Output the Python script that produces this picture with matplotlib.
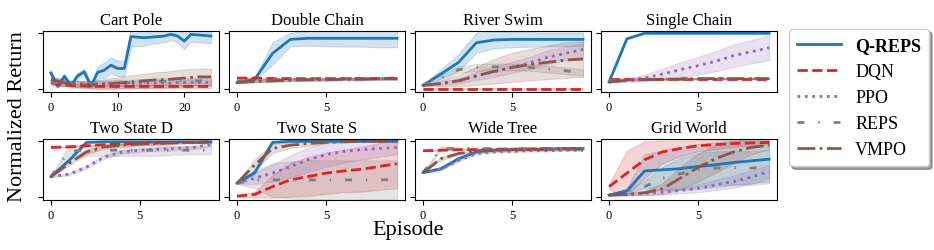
import numpy as np
import matplotlib.pyplot as plt

plt.rcParams["font.family"] = ["Liberation Serif", "DejaVu Serif"]
plt.rcParams["mathtext.fontset"] = "stix"

ALGOS = ["Q-REPS", "DQN", "PPO", "REPS", "VMPO"]
COLORS = {"Q-REPS": "#1f77b4", "DQN": "#d62728", "PPO": "#9467bd",
          "REPS": "#7f7f7f", "VMPO": "#8c564b"}
STYLES = {"Q-REPS": "-", "DQN": "--", "PPO": ":",
          "REPS": (0, (2.5, 5, 0.5, 5)), "VMPO": "-."}

# ---- data (normalized return, mean and spread) ----
cart_pole = {
    "Q-REPS": [0.29, 0.05, 0.23, 0.07, 0.24, 0.31, 0.06, 0.30, 0.34, 0.43, 0.37, 0.37, 0.94,
               0.93, 0.92, 0.93, 0.94, 0.95, 0.98, 0.95, 0.86, 0.98, 0.97, 0.96, 0.95],
    "DQN": [0.12, 0.10, 0.08, 0.07, 0.06, 0.06, 0.05, 0.05, 0.05, 0.05, 0.05, 0.05, 0.05,
            0.05, 0.05, 0.05, 0.05, 0.05, 0.05, 0.05, 0.05, 0.05, 0.05, 0.05, 0.05],
    "PPO": [0.15, 0.13, 0.11, 0.10, 0.10, 0.10, 0.10, 0.10, 0.10, 0.10, 0.10, 0.10, 0.10,
            0.10, 0.11, 0.11, 0.11, 0.11, 0.11, 0.12, 0.12, 0.12, 0.12, 0.12, 0.12],
    "REPS": [0.13, 0.12, 0.11, 0.11, 0.10, 0.10, 0.10, 0.11, 0.11, 0.11, 0.12, 0.12, 0.12,
             0.13, 0.13, 0.13, 0.14, 0.14, 0.14, 0.15, 0.15, 0.15, 0.15, 0.15, 0.15],
    "VMPO": [0.17, 0.15, 0.12, 0.10, 0.09, 0.08, 0.08, 0.08, 0.09, 0.10, 0.11, 0.12, 0.13,
             0.14, 0.15, 0.16, 0.17, 0.17, 0.18, 0.19, 0.20, 0.21, 0.22, 0.22, 0.22],
}
cart_pole_sd = {
    "Q-REPS": [0.05, 0.03, 0.05, 0.03, 0.05, 0.06, 0.04, 0.10, 0.14, 0.14, 0.14, 0.14, 0.18,
               0.16, 0.14, 0.12, 0.12, 0.11, 0.10, 0.12, 0.14, 0.13, 0.13, 0.13, 0.13],
    "DQN": [0.03] * 25,
    "PPO": [0.08, 0.07, 0.06, 0.05, 0.05, 0.05, 0.05, 0.05, 0.05, 0.05, 0.05, 0.05, 0.05,
            0.05, 0.05, 0.05, 0.05, 0.05, 0.05, 0.05, 0.05, 0.05, 0.05, 0.05, 0.05],
    "REPS": [0.05] * 25,
    "VMPO": [0.05, 0.05, 0.05, 0.05, 0.06, 0.06, 0.07, 0.08, 0.09, 0.10, 0.10, 0.11, 0.12,
             0.12, 0.13, 0.13, 0.14, 0.14, 0.15, 0.15, 0.15, 0.15, 0.15, 0.15, 0.15],
}

double_chain = {
    "Q-REPS": [0.12, 0.18, 0.64, 0.89, 0.91, 0.91, 0.91, 0.91, 0.91, 0.91],
    "DQN": [0.20, 0.20, 0.19, 0.19, 0.19, 0.19, 0.19, 0.19, 0.19, 0.20],
    "PPO": [0.14, 0.15, 0.16, 0.17, 0.17, 0.18, 0.18, 0.18, 0.19, 0.19],
    "REPS": [0.14, 0.16, 0.17, 0.18, 0.18, 0.18, 0.19, 0.19, 0.19, 0.19],
    "VMPO": [0.12, 0.14, 0.15, 0.16, 0.17, 0.17, 0.18, 0.18, 0.19, 0.19],
}
double_chain_sd = {
    "Q-REPS": [0.01, 0.02, 0.20, 0.12, 0.13, 0.14, 0.15, 0.15, 0.16, 0.16],
    "DQN": [0.01] * 10,
    "PPO": [0.02] * 10,
    "REPS": [0.02] * 10,
    "VMPO": [0.02] * 10,
}

river_swim = {
    "Q-REPS": [0.07, 0.27, 0.48, 0.83, 0.88, 0.89, 0.89, 0.89, 0.89, 0.89],
    "DQN": [0.01] * 10,
    "PPO": [0.07, 0.10, 0.15, 0.24, 0.31, 0.39, 0.47, 0.57, 0.64, 0.71],
    "REPS": [0.07, 0.20, 0.35, 0.39, 0.40, 0.40, 0.39, 0.36, 0.33, 0.30],
    "VMPO": [0.07, 0.10, 0.15, 0.24, 0.32, 0.39, 0.44, 0.48, 0.52, 0.54],
}
river_swim_sd = {
    "Q-REPS": [0.02, 0.08, 0.15, 0.18, 0.15, 0.14, 0.13, 0.12, 0.12, 0.12],
    "DQN": [0.005] * 10,
    "PPO": [0.01, 0.03, 0.05, 0.07, 0.09, 0.10, 0.11, 0.12, 0.12, 0.12],
    "REPS": [0.01, 0.05, 0.06, 0.06, 0.06, 0.06, 0.06, 0.06, 0.06, 0.06],
    "VMPO": [0.01, 0.05, 0.10, 0.16, 0.22, 0.26, 0.28, 0.30, 0.32, 0.32],
}

single_chain = {
    "Q-REPS": [0.13, 0.90, 1.00, 1.00, 1.00, 1.00, 1.00, 1.00, 1.00, 1.00],
    "DQN": [0.19] * 10,
    "PPO": [0.13, 0.16, 0.20, 0.27, 0.35, 0.42, 0.50, 0.60, 0.67, 0.74],
    "REPS": [0.15, 0.17, 0.18, 0.18, 0.19, 0.19, 0.19, 0.19, 0.19, 0.19],
    "VMPO": [0.13, 0.16, 0.17, 0.18, 0.18, 0.19, 0.19, 0.19, 0.19, 0.19],
}
single_chain_sd = {
    "Q-REPS": [0.005] * 10,
    "DQN": [0.01] * 10,
    "PPO": [0.01, 0.03, 0.06, 0.10, 0.13, 0.16, 0.18, 0.20, 0.21, 0.22],
    "REPS": [0.01] * 10,
    "VMPO": [0.01] * 10,
}

two_state_d = {
    "Q-REPS": [0.37, 0.65, 0.98, 0.99, 0.99, 0.99, 0.99, 0.99, 0.99, 0.99],
    "DQN": [0.89, 0.90, 0.92, 0.94, 0.95, 0.96, 0.97, 0.98, 0.98, 0.99],
    "PPO": [0.37, 0.41, 0.54, 0.72, 0.81, 0.84, 0.86, 0.87, 0.89, 0.94],
    "REPS": [0.37, 0.82, 0.84, 0.84, 0.84, 0.84, 0.84, 0.84, 0.84, 0.84],
    "VMPO": [0.37, 0.60, 0.81, 0.90, 0.93, 0.95, 0.96, 0.97, 0.98, 0.98],
}
two_state_d_sd = {
    "Q-REPS": [0.005] * 10,
    "DQN": [0.01] * 10,
    "PPO": [0.01, 0.02, 0.03, 0.03, 0.03, 0.03, 0.03, 0.03, 0.03, 0.03],
    "REPS": [0.01, 0.10, 0.10, 0.10, 0.10, 0.10, 0.10, 0.08, 0.07, 0.07],
    "VMPO": [0.01, 0.04, 0.04, 0.03, 0.03, 0.02, 0.02, 0.02, 0.02, 0.02],
}

two_state_s = {
    "Q-REPS": [0.25, 0.44, 0.98, 1.00, 1.00, 1.00, 1.00, 1.00, 1.00, 1.00],
    "DQN": [0.02, 0.05, 0.19, 0.31, 0.37, 0.43, 0.47, 0.50, 0.55, 0.60],
    "PPO": [0.25, 0.34, 0.43, 0.55, 0.67, 0.76, 0.82, 0.85, 0.87, 0.89],
    "REPS": [0.25, 0.31, 0.31, 0.31, 0.31, 0.31, 0.31, 0.31, 0.31, 0.31],
    "VMPO": [0.25, 0.58, 0.87, 0.93, 0.96, 0.98, 0.99, 1.00, 1.00, 1.00],
}
two_state_s_sd = {
    "Q-REPS": [0.01, 0.03, 0.02, 0.01, 0.01, 0.01, 0.01, 0.01, 0.01, 0.01],
    "DQN": [0.02, 0.05, 0.20, 0.30, 0.35, 0.37, 0.38, 0.40, 0.42, 0.44],
    "PPO": [0.01, 0.10, 0.15, 0.20, 0.22, 0.22, 0.20, 0.18, 0.15, 0.12],
    "REPS": [0.01, 0.15, 0.30, 0.33, 0.35, 0.35, 0.35, 0.35, 0.35, 0.35],
    "VMPO": [0.01, 0.10, 0.08, 0.05, 0.04, 0.02, 0.01, 0.01, 0.01, 0.01],
}

wide_tree = {
    "Q-REPS": [0.44, 0.51, 0.69, 0.81, 0.84, 0.85, 0.86, 0.86, 0.87, 0.87],
    "DQN": [0.83, 0.84, 0.85, 0.85, 0.86, 0.86, 0.86, 0.87, 0.87, 0.87],
    "PPO": [0.44, 0.50, 0.66, 0.78, 0.81, 0.82, 0.83, 0.83, 0.84, 0.84],
    "REPS": [0.44, 0.87, 0.87, 0.87, 0.87, 0.87, 0.87, 0.87, 0.87, 0.87],
    "VMPO": [0.44, 0.69, 0.78, 0.83, 0.84, 0.85, 0.85, 0.86, 0.86, 0.86],
}
wide_tree_sd = {
    "Q-REPS": [0.005, 0.02, 0.02, 0.01, 0.01, 0.01, 0.01, 0.01, 0.01, 0.01],
    "DQN": [0.005] * 10,
    "PPO": [0.005, 0.02, 0.02, 0.01, 0.01, 0.01, 0.01, 0.01, 0.01, 0.01],
    "REPS": [0.005, 0.04, 0.02, 0.01, 0.01, 0.01, 0.01, 0.01, 0.01, 0.01],
    "VMPO": [0.005, 0.03, 0.02, 0.01, 0.01, 0.01, 0.01, 0.01, 0.01, 0.01],
}

grid_world = {
    "Q-REPS": [0.04, 0.11, 0.47, 0.49, 0.51, 0.55, 0.58, 0.62, 0.65, 0.68],
    "DQN": [0.19, 0.43, 0.67, 0.81, 0.87, 0.92, 0.94, 0.96, 0.97, 0.98],
    "PPO": [0.04, 0.05, 0.07, 0.09, 0.12, 0.16, 0.22, 0.28, 0.36, 0.46],
    "REPS": [0.04, 0.11, 0.19, 0.34, 0.42, 0.49, 0.52, 0.53, 0.52, 0.55],
    "VMPO": [0.04, 0.05, 0.08, 0.15, 0.34, 0.53, 0.69, 0.81, 0.89, 0.93],
}
grid_world_sd = {
    "Q-REPS": [0.02, 0.05, 0.30, 0.35, 0.38, 0.40, 0.40, 0.40, 0.40, 0.40],
    "DQN": [0.05, 0.40, 0.33, 0.20, 0.14, 0.10, 0.08, 0.06, 0.05, 0.04],
    "PPO": [0.01, 0.02, 0.03, 0.04, 0.05, 0.07, 0.09, 0.11, 0.12, 0.12],
    "REPS": [0.01, 0.05, 0.10, 0.20, 0.28, 0.30, 0.30, 0.30, 0.30, 0.30],
    "VMPO": [0.01, 0.02, 0.04, 0.10, 0.20, 0.25, 0.25, 0.20, 0.12, 0.08],
}

ENVS = [
    ("Cart Pole", cart_pole, cart_pole_sd, [0, 10, 20]),
    ("Double Chain", double_chain, double_chain_sd, [0, 5]),
    ("River Swim", river_swim, river_swim_sd, [0, 5]),
    ("Single Chain", single_chain, single_chain_sd, [0, 5]),
    ("Two State D", two_state_d, two_state_d_sd, [0, 5]),
    ("Two State S", two_state_s, two_state_s_sd, [0, 5]),
    ("Wide Tree", wide_tree, wide_tree_sd, [0, 5]),
    ("Grid World", grid_world, grid_world_sd, [0, 5]),
]

fig, axes = plt.subplots(2, 4, figsize=(9.34, 2.51), dpi=100)
fig.subplots_adjust(left=0.046, right=0.832, bottom=0.199, top=0.8725,
                    wspace=0.057, hspace=0.77)

for ax, (title, means, sds, xticks) in zip(axes.flat, ENVS):
    for algo in ALGOS:
        m = np.array(means[algo])
        s = np.array(sds[algo])
        x = np.arange(len(m))
        ax.fill_between(x, m - s, m + s, color=COLORS[algo], alpha=0.2, lw=0.8)
        ax.plot(x, m, color=COLORS[algo], ls=STYLES[algo], lw=2, label=algo)
    ax.set_title(title, fontsize=12, pad=5)
    ax.set_ylim(-0.05, 1.04)
    ax.set_yticks([0, 1])
    ax.set_yticklabels([])
    ax.set_xticks(xticks)
    ax.tick_params(labelsize=9, pad=3)

fig.text(0.019, 0.535, "Normalized Return", rotation=90, fontsize=16,
         ha="center", va="center")
fig.text(0.437, 0.082, "Episode", fontsize=16, ha="center", va="center")

handles, labels = axes[0, 0].get_legend_handles_labels()
leg = fig.legend(handles, labels, loc="upper left", bbox_to_anchor=(0.845, 0.88),
                 fontsize=13, shadow=True, fancybox=True, handlelength=2.4,
                 borderpad=0.45, labelspacing=0.5, borderaxespad=0)
leg.get_texts()[0].set_fontweight("bold")

plt.savefig("out.png", dpi=100)
plt.close()
